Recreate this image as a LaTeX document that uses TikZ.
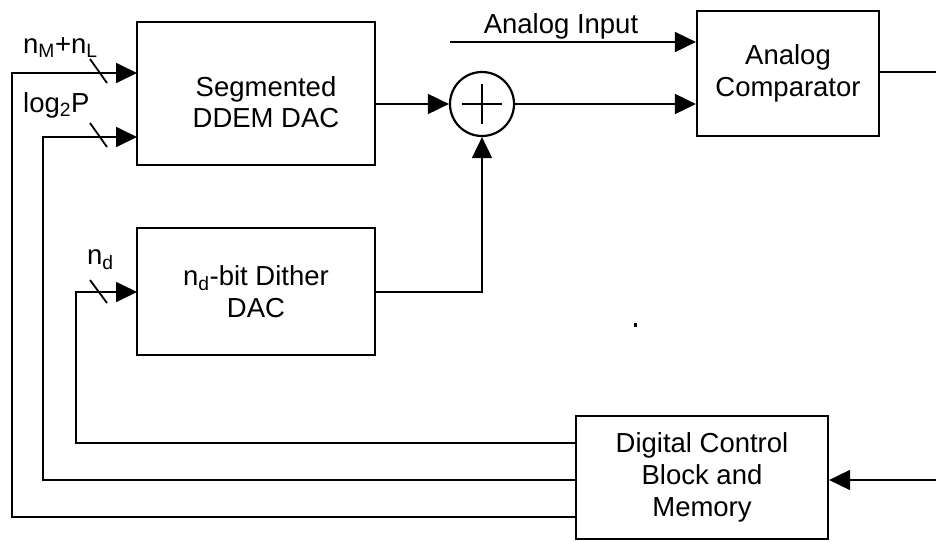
\documentclass[tikz,border=0pt]{standalone}
\usepackage{fontspec}
\setmainfont{Liberation Sans}
\usetikzlibrary{arrows.meta}
\begin{document}
\begin{tikzpicture}[x=1pt,y=-1pt,
  blk/.style={draw,line width=2.2pt,inner sep=0pt,align=center,font=\fontsize{27.5}{32}\selectfont},
  wire/.style={line width=1.8pt},
  arr/.style={wire,-{Triangle[length=21pt,width=20pt]}},
  lbl/.style={font=\fontsize{27.5}{32}\selectfont,inner sep=0pt},
  slash/.style={line width=1.8pt}]
\useasboundingbox (0,0) rectangle (936,541);
% blocks
\node[blk,minimum width=238pt,minimum height=143pt] (ddem) at (256,93.5) {};
\node[lbl,align=center,font=\fontsize{27.5}{31}\selectfont] (ddemt) at (266,102) {Segmented\\DDEM DAC};
\node[blk,minimum width=238pt,minimum height=127pt] (dith) at (256,291.5) {n\textsubscript{d}-bit Dither\\DAC};
\node[blk,minimum width=182pt,minimum height=125pt] (comp) at (788,73.5) {Analog\\Comparator};
\node[blk,minimum width=252pt,minimum height=123pt] (dcb) at (702,477.5) {Digital Control\\Block and\\Memory};
\node[draw,circle,line width=2.2pt,minimum size=64pt,inner sep=0pt] (sum) at (482,104) {};
\draw[wire] ([yshift=-20pt]sum.center) -- ([yshift=20pt]sum.center);
\draw[wire] ([xshift=-20pt]sum.center) -- ([xshift=20pt]sum.center);
% coordinates
\coordinate (ainL) at (450,42);
\coordinate (outR) at (936,72);
\coordinate (inR) at (936,480);
\coordinate (ddemA) at (137,73);
\coordinate (ddemB) at (137,137);
\coordinate (dithA) at (137,292);
% connections
\draw[arr] (ddem.east |- sum.center) -- (sum.west);
\draw[arr] (dith.east |- 0,292) -| (sum.south);
\draw[arr] (sum.east) -- (comp.west |- sum.center);
\draw[arr] (ainL) -- (comp.west |- ainL);
\node[lbl,anchor=base] (ain) at (561,33) {Analog Input};
\draw[wire] (comp.east |- outR) -- (outR);
\draw[arr] (inR) -- (dcb.east |- inR);
\draw[arr] (dcb.west |- 0,443) -- (76,443) |- (dithA);
\draw[arr] (dcb.west |- 0,480) -- (43,480) |- (ddemB);
\draw[arr] (dcb.west |- 0,517) -- (12,517) |- (ddemA);
% slashes
\draw[slash] (90,59) -- (107,83);
\draw[slash] (90,123) -- (107,147);
\draw[slash] (90,280) -- (107,303);
% labels
\node[lbl,anchor=base west] (l1) at (23,53) {n\textsubscript{M}+n\textsubscript{L}};
\node[lbl,anchor=base west] (l2) at (23,112) {log\textsubscript{2}P};
\node[lbl,anchor=base west] (l3) at (87,264) {n\textsubscript{d}};
% stray dot
\fill (634,323) rectangle (637,327);
\end{tikzpicture}
\end{document}
